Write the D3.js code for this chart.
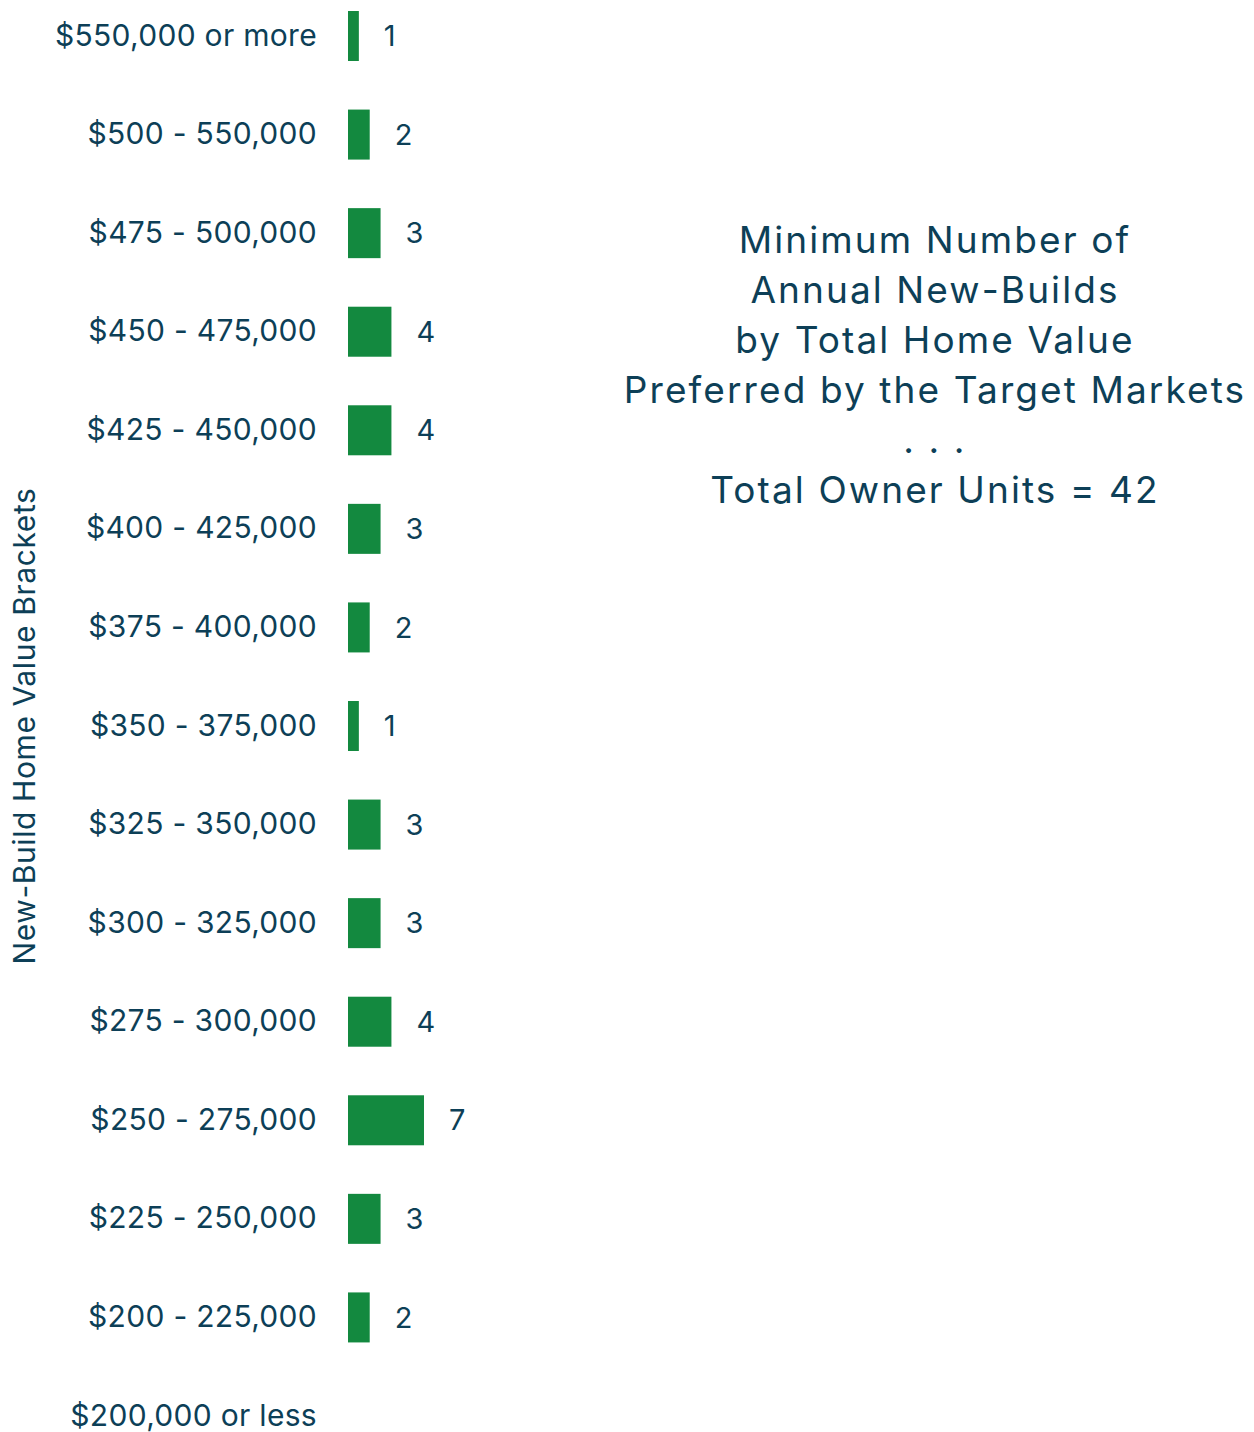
<!DOCTYPE html>
<html>
<head>
<meta charset="utf-8">
<script src="https://cdn.jsdelivr.net/npm/d3@7"></script>
<style>
  body { margin: 0; background: #fff; }
  svg { display: block; font-family: Inter, "Open Sans", sans-serif; }
</style>
</head>
<body>
<svg id="chart"></svg>
<script>
// Data
const brackets = [
  "$550,000 or more",
  "$500 - 550,000",
  "$475 - 500,000",
  "$450 - 475,000",
  "$425 - 450,000",
  "$400 - 425,000",
  "$375 - 400,000",
  "$350 - 375,000",
  "$325 - 350,000",
  "$300 - 325,000",
  "$275 - 300,000",
  "$250 - 275,000",
  "$225 - 250,000",
  "$200 - 225,000",
  "$200,000 or less",
];
const units = [1, 2, 3, 4, 4, 3, 2, 1, 3, 3, 4, 7, 3, 2, 0];
const titleLines = [
  "Minimum Number of",
  "Annual New-Builds",
  "by Total Home Value",
  "Preferred by the Target Markets",
  ". . .",
  "Total Owner Units = 42",
];

// Dimensions
const svgWidth = 1254;
const svgHeight = 1432;
const TEXT_COLOR = "#0d3f57";
const BAR_COLOR = "#13893f";

const svg = d3
  .select("#chart")
  .attr("width", svgWidth)
  .attr("height", svgHeight);

// Scales
const x = d3.scaleLinear().domain([0, 7]).range([348, 424]);
const y = d3
  .scaleBand()
  .domain(brackets)
  .range([11, 1441])
  .paddingInner(0.4927)
  .paddingOuter(0);

// Bars
svg
  .selectAll(".bar")
  .data(brackets)
  .enter()
  .append("rect")
  .attr("class", "bar")
  .attr("x", x(0))
  .attr("y", (d) => y(d))
  .attr("width", (d, i) => x(units[i]) - x(0))
  .attr("height", y.bandwidth())
  .attr("fill", BAR_COLOR);

// Value labels
svg
  .selectAll(".value")
  .data(brackets.filter((d, i) => units[i] > 0))
  .enter()
  .append("text")
  .attr("class", "value")
  .attr("x", (d) => x(units[brackets.indexOf(d)]) + 25)
  .attr("y", (d) => y(d) + y.bandwidth() / 2)
  .attr("dy", "0.35em")
  .attr("font-size", 29)
  .attr("fill", TEXT_COLOR)
  .text((d) => units[brackets.indexOf(d)]);

// Category axis
const yAxis = svg
  .append("g")
  .attr("transform", "translate(348,0)")
  .call(d3.axisLeft(y).tickSize(0).tickPadding(31));
yAxis.select(".domain").remove();
yAxis
  .selectAll("text")
  .attr("font-size", 30)
  .attr("font-family", "Inter, sans-serif")
  .attr("letter-spacing", 0.3)
  .attr("fill", TEXT_COLOR);

// Axis title
svg
  .append("text")
  .attr("transform", "translate(35,726) rotate(-90)")
  .attr("text-anchor", "middle")
  .attr("font-size", 30)
  .attr("letter-spacing", 0.6)
  .attr("fill", TEXT_COLOR)
  .text("New-Build Home Value Brackets");

// Chart title
svg
  .append("text")
  .attr("text-anchor", "middle")
  .attr("font-size", 37)
  .attr("letter-spacing", 2.1)
  .attr("fill", TEXT_COLOR)
  .selectAll("tspan")
  .data(titleLines)
  .enter()
  .append("tspan")
  .attr("x", 935)
  .attr("y", (d, i) => 253 + i * 50)
  .text((d) => d);
</script>
</body>
</html>
